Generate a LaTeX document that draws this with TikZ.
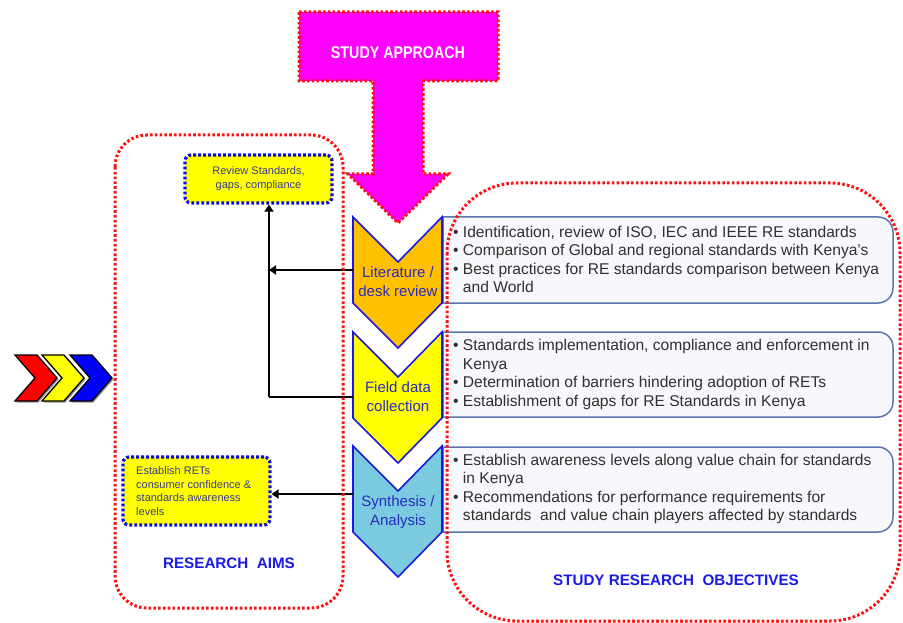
\documentclass[tikz,border=0pt]{standalone}
\usepackage{fontspec}
\setmainfont{Liberation Sans}
\newfontfamily\narrowfont[FakeStretch=0.84]{Liberation Sans}
\usetikzlibrary{arrows.meta}
\definecolor{magentaA}{HTML}{FF00FF}
\definecolor{reddot}{HTML}{FF1010}
\definecolor{bluedot}{HTML}{0A0AE8}
\definecolor{chevorange}{HTML}{FFC000}
\definecolor{chevyellow}{HTML}{FFFF00}
\definecolor{chevblue}{HTML}{7ACBE0}
\definecolor{chevedge}{HTML}{1A1ADC}
\definecolor{chevtext}{HTML}{2A2AC0}
\definecolor{boxedge}{HTML}{5A74AC}
\definecolor{boxfill}{HTML}{F7F8FB}
\definecolor{bodytext}{HTML}{303030}
\definecolor{aimtext}{HTML}{3A3A90}
\definecolor{titleblue}{HTML}{1A1AE8}
\tikzset{
  reddots/.style={draw=reddot, line width=3pt, line cap=butt, dash pattern=on 2.6pt off 2.2pt},
  aimbox/.style={fill=chevyellow, draw=bluedot, line width=3.2pt, line cap=butt, dash pattern=on 2.8pt off 2.2pt, rounded corners=6pt, inner sep=0pt},
  chevshape/.style={draw=chevedge, line width=1.6pt, line join=miter},
  chevlabel/.style={text=chevtext, font=\fontsize{15}{19}\selectfont, align=center, inner sep=0pt},
  objbox/.style={draw=boxedge, line width=1.5pt, fill=boxfill},
  objtext/.style={text=bodytext, font=\fontsize{15.6}{18.6}\selectfont, align=left, inner sep=0pt, anchor=west},
  conn/.style={draw=black, line width=2.9pt},
  connarrow/.style={conn, -{Triangle[length=7pt,width=9pt]}},
  title/.style={text=titleblue, font=\bfseries\fontsize{15.2}{17}\selectfont, inner sep=0pt},
  smallchev/.style={draw=black, line width=1.3pt, line join=miter}
}
\begin{document}
\begin{tikzpicture}[x=1pt,y=-1pt]
\useasboundingbox (0,0) rectangle (903,623);

% study approach T arrow
\path[fill=magentaA, reddots] (299,12) -- (498,12) -- (498,81) -- (423,81) -- (423,174) -- (448,174) -- (398,223) -- (348,174) -- (373,174) -- (373,81) -- (299,81) -- cycle;
\node[text=white, font=\narrowfont\bfseries\fontsize{17}{19}\selectfont, inner sep=0pt] (approach) at (398,53) {STUDY APPROACH};

% objective boxes (square left, rounded right)
\foreach \ya/\yb/\nm in {217/303/objA, 332/417/objB, 447/532/objC}{
  \path[objbox] (443,\ya) -- (878,\ya) arc[start angle=-90,end angle=0,radius=15] -- (893,\yb-15) arc[start angle=0,end angle=90,radius=15] -- (443,\yb) -- cycle;
}

% vertical chevrons
\foreach \y/\col in {217/chevorange, 332/chevyellow, 446/chevblue}{
  \path[chevshape, fill=\col] (353,\y) -- (398,\y+45) -- (442,\y) -- (442,\y+86) -- (398,\y+131) -- (353,\y+86) -- cycle;
}
\node[chevlabel] (lit) at (398,282) {Literature /\\desk review};
\node[chevlabel] (field) at (398,397) {Field data\\collection};
\node[chevlabel] (synth) at (398,512) {Synthesis /\\Analysis};

% objective texts
\node[objtext] (tA) at (453,259.5) {\textbullet\ Identification, review of ISO, IEC and IEEE RE standards\\
\textbullet\ Comparison of Global and regional standards with Kenya’s\\
\textbullet\ Best practices for RE standards comparison between Kenya\\
\phantom{\textbullet\ }and World};
\node[objtext] (tB) at (453,374.5) {\textbullet\ Standards implementation, compliance and enforcement in\\
\phantom{\textbullet\ }Kenya\\
\textbullet\ Determination of barriers hindering adoption of RETs\\
\textbullet\ Establishment of gaps for RE Standards in Kenya};
\node[objtext] (tC) at (453,489) {\textbullet\ Establish awareness levels along value chain for standards\\
\phantom{\textbullet\ }in Kenya\\
\textbullet\ Recommendations for performance requirements for\\
\phantom{\textbullet\ }standards \ and value chain players affected by standards};

% research aim boxes
\node[aimbox, minimum width=147pt, minimum height=48pt, text=aimtext, font=\fontsize{11}{14}\selectfont, align=center] (rev) at (258.5,179) {Review Standards,\\gaps, compliance};
\node[aimbox, minimum width=147pt, minimum height=68pt] (est) at (196.5,491) {};
\node[text=aimtext, font=\fontsize{11}{13.6}\selectfont, align=left, anchor=west, inner sep=0pt] (esttext) at (136,491) {Establish RETs\\consumer confidence \&\\standards awareness\\levels};

% connectors
\coordinate (litL) at (353,270);
\coordinate (fieldL) at (353,397);
\coordinate (synthL) at (353,494);
\coordinate (j1) at (269,270);
\coordinate (j2) at (269,397);
\draw[connarrow] (litL) -- (j1);
\draw[conn] (fieldL) -- (j2);
\draw[connarrow, line join=miter] (j2) -- (j2 |- rev.south);
\draw[connarrow] (synthL) -- (synthL -| est.east);

% research aims / objectives frames
\path[reddots, rounded corners=70pt] (447,183) rectangle (900,621);
\path[reddots, rounded corners=32pt] (115,135) rectangle (343,608);

\node[title] (aims) at (229,563) {RESEARCH \ AIMS};
\node[title] (objs) at (676,580) {STUDY RESEARCH \ OBJECTIVES};

% small horizontal chevrons
\foreach \x/\col in {15/red, 42/chevyellow, 70/blue}{
  \path[fill=black!40] (\x+1.5,356.5) -- (\x+23.5,356.5) -- (\x+43.5,379.5) -- (\x+23.5,402.5) -- (\x+1.5,402.5) -- (\x+21.5,379.5) -- cycle;
  \path[smallchev, fill=\col] (\x,355) -- (\x+22,355) -- (\x+42,378) -- (\x+22,401) -- (\x,401) -- (\x+20,378) -- cycle;
}
\end{tikzpicture}
\end{document}
